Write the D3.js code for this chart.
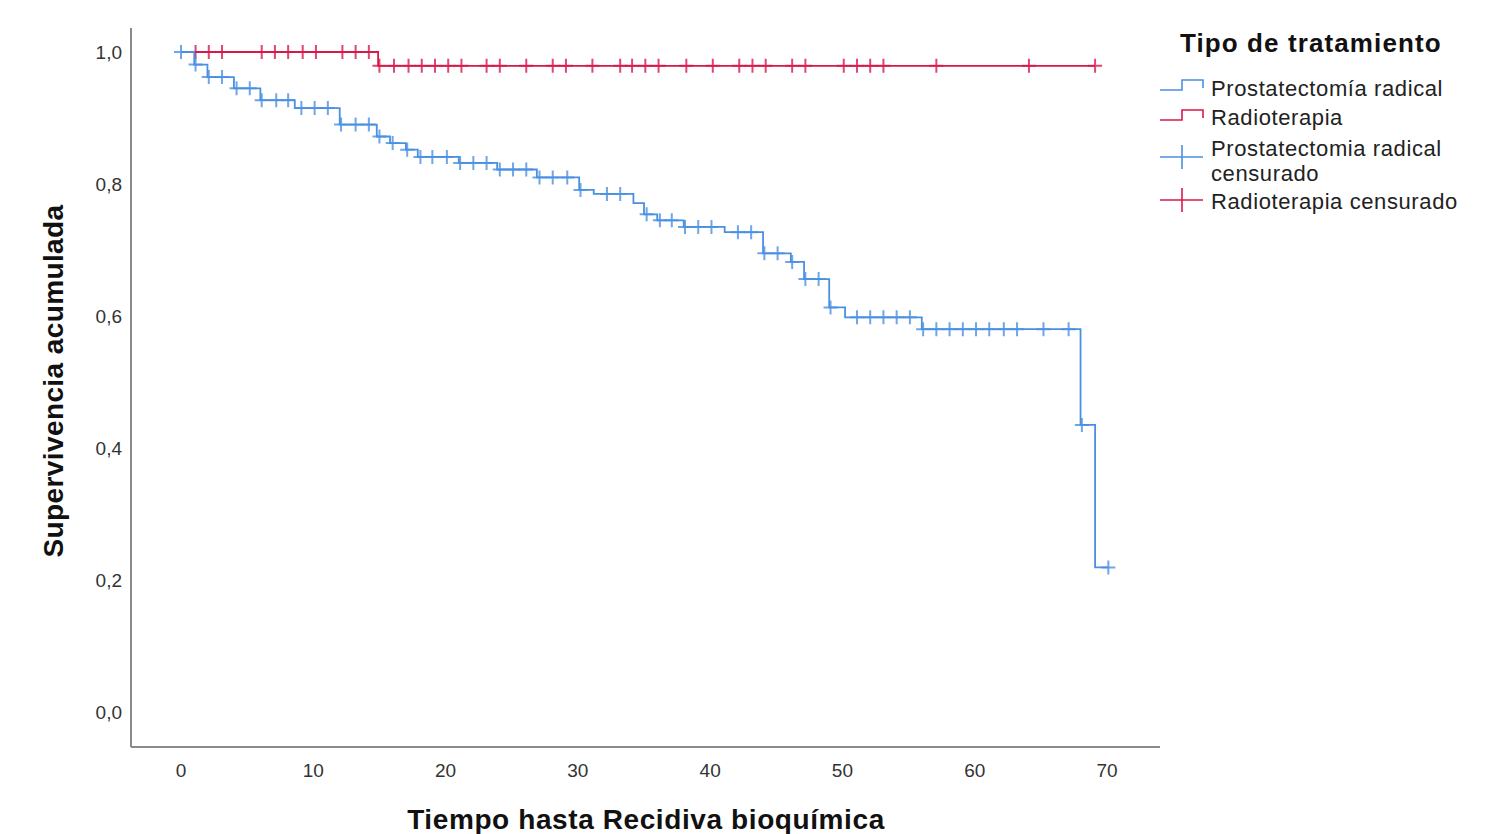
<!DOCTYPE html>
<html>
<head>
<meta charset="utf-8">
<script src="https://cdn.jsdelivr.net/npm/d3@7"></script>
<style>
  body { margin: 0; background: #fff; }
  svg { display: block; font-family: "Liberation Sans", Arial, sans-serif; }
</style>
</head>
<body>
<svg id="chart" width="1497" height="834"></svg>
<script>
// Pasos de la curva (tiempo, supervivencia)
const prostSteps = [
  [0, 1.0], [1.0, 0.981], [2.0, 0.962], [4.0, 0.945], [6.0, 0.927], [8.6, 0.915],
  [12.0, 0.890], [14.8, 0.872], [15.8, 0.862], [17.0, 0.852], [17.9, 0.841],
  [21.0, 0.832], [23.9, 0.822], [26.9, 0.810], [30.1, 0.791], [31.2, 0.785],
  [34.2, 0.771], [35.0, 0.754], [36.0, 0.745], [38.0, 0.735], [41.1, 0.727],
  [44.0, 0.695], [46.1, 0.682], [47.1, 0.656], [49.0, 0.613], [50.2, 0.598],
  [56.0, 0.580], [68.0, 0.435], [69.1, 0.219]
];
const prostEnd = 70.1;
const prostCens = [
  0, 1.1, 2.1, 3.1, 4.2, 5.2, 6.1, 7.2, 8.1, 9.1, 10.1, 11.1, 12.1, 13.2, 14.2,
  15.0, 16.0, 17.1, 18.1, 19.0, 20.1, 21.1, 22.1, 23.1, 24.1, 25.1, 26.1,
  27.1, 28.1, 29.2, 30.2, 32.2, 33.2, 35.2, 36.2, 37.1, 38.1, 39.1, 40.1,
  42.1, 43.1, 44.1, 45.1, 46.2, 47.2, 48.2, 49.1, 51.1, 52.1, 53.1, 54.1, 55.1,
  56.1, 57.1, 58.1, 59.1, 60.1, 61.1, 62.2, 63.2, 65.2, 67.1, 68.1, 70.1
];

const radioSteps = [[0, 1.0], [14.9, 0.979]];
const radioEnd = 69.1;
const radioCens = [
  1.1, 2.1, 3.1, 6.1, 7.1, 8.1, 9.2, 10.2, 12.2, 13.2, 14.2,
  15.0, 16.1, 17.2, 18.2, 19.2, 20.2, 21.2, 23.1, 24.1, 26.1, 28.1, 29.1,
  31.1, 33.2, 34.1, 35.1, 36.1, 38.2, 40.2, 42.2, 43.2, 44.2, 46.2, 47.2,
  50.1, 51.1, 52.1, 53.1, 57.1, 64.1, 69.1
];

const xTicks = [0, 10, 20, 30, 40, 50, 60, 70];
const yTicks = [0, 0.2, 0.4, 0.6, 0.8, 1.0];

const azul = "#4a90e2";
const rojo = "#d8184a";

const svg = d3.select("#chart");

const x = d3.scaleLinear().domain([0, 70]).range([181, 1107]);
const y = d3.scaleLinear().domain([0, 1]).range([712, 52]);

// Ejes
svg.append("line")
  .attr("x1", 131).attr("x2", 131).attr("y1", 28).attr("y2", 747)
  .attr("stroke", "#8a8a8a").attr("stroke-width", 2);
svg.append("line")
  .attr("x1", 131).attr("x2", 1160).attr("y1", 747).attr("y2", 747)
  .attr("stroke", "#8a8a8a").attr("stroke-width", 2);

const fmt = d => d3.format(".1f")(d).replace(".", ",");

svg.selectAll(".ytick")
  .data(yTicks)
  .enter()
  .append("text")
  .attr("class", "ytick")
  .attr("x", 122)
  .attr("y", d => y(d) + 7)
  .attr("text-anchor", "end")
  .attr("font-size", 19)
  .attr("fill", "#333")
  .text(fmt);

svg.selectAll(".xtick")
  .data(xTicks)
  .enter()
  .append("text")
  .attr("class", "xtick")
  .attr("x", d => x(d))
  .attr("y", 777)
  .attr("text-anchor", "middle")
  .attr("font-size", 19)
  .attr("fill", "#333")
  .text(d => d);

// Titulos de ejes
svg.append("text")
  .attr("transform", "translate(63,381) rotate(-90)")
  .attr("text-anchor", "middle")
  .attr("font-size", 28)
  .attr("font-weight", "bold")
  .attr("letter-spacing", 0.4)
  .attr("fill", "#111")
  .text("Supervivencia acumulada");

svg.append("text")
  .attr("x", 646)
  .attr("y", 829)
  .attr("text-anchor", "middle")
  .attr("font-size", 28)
  .attr("font-weight", "bold")
  .attr("letter-spacing", 0.6)
  .attr("fill", "#111")
  .text("Tiempo hasta Recidiva bioquímica");

// Curvas
function nivel(steps, t) {
  let s = steps[0][1];
  steps.forEach(p => { if (p[0] <= t) s = p[1]; });
  return s;
}

const line = d3.line()
  .x(d => x(d[0]))
  .y(d => y(d[1]))
  .curve(d3.curveStepAfter);

function dibujaCurva(steps, end, cens, color) {
  const pts = steps.concat([[end, steps[steps.length - 1][1]]]);
  svg.append("path")
    .datum(pts)
    .attr("fill", "none")
    .attr("stroke", color)
    .attr("stroke-width", 1.8)
    .attr("d", line);

  svg.selectAll(null)
    .data(cens)
    .enter()
    .append("path")
    .attr("d", d => {
      const cx = x(d), cy = y(nivel(steps, d));
      return `M${cx - 7},${cy}H${cx + 7}M${cx},${cy - 7}V${cy + 7}`;
    })
    .attr("stroke", color)
    .attr("stroke-width", 2)
    .attr("stroke-opacity", 0.8)
    .attr("fill", "none");
}

dibujaCurva(radioSteps, radioEnd, radioCens, rojo);
dibujaCurva(prostSteps, prostEnd, prostCens, azul);

// Leyenda
const leg = svg.append("g");
leg.append("text")
  .attr("x", 1180).attr("y", 52)
  .attr("font-size", 26).attr("font-weight", "bold")
  .attr("letter-spacing", 1.1).attr("fill", "#111")
  .text("Tipo de tratamiento");

const items = [
  { tipo: "step", color: azul, cy: 90, lines: ["Prostatectomía radical"], base: 96 },
  { tipo: "step", color: rojo, cy: 120, lines: ["Radioterapia"], base: 125 },
  { tipo: "cross", color: azul, cy: 157, lines: ["Prostatectomia radical", "censurado"], base: 156 },
  { tipo: "cross", color: rojo, cy: 200, lines: ["Radioterapia censurado"], base: 209 }
];

items.forEach(it => {
  if (it.tipo === "step") {
    leg.append("path")
      .attr("d", `M1160,${it.cy}H1182V${it.cy - 10}H1203V${it.cy - 2}`)
      .attr("fill", "none").attr("stroke", it.color).attr("stroke-width", 1.6);
  } else {
    leg.append("path")
      .attr("d", `M1160,${it.cy}H1203M1182,${it.cy - 12}V${it.cy + 12}`)
      .attr("fill", "none").attr("stroke", it.color).attr("stroke-width", 1.6);
  }
  it.lines.forEach((t, i) => {
    leg.append("text")
      .attr("x", 1211).attr("y", it.base + i * 25)
      .attr("font-size", 22).attr("letter-spacing", 0.6).attr("fill", "#222")
      .text(t);
  });
});
</script>
</body>
</html>
